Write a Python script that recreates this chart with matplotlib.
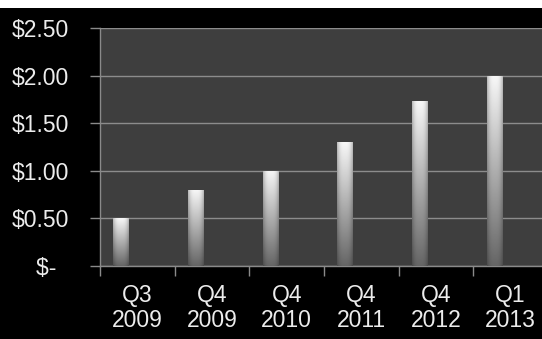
import numpy as np
import matplotlib
matplotlib.use("Agg")
import matplotlib.pyplot as plt
from matplotlib.patches import Rectangle

categories = ["Q3\n2009", "Q4\n2009", "Q4\n2010", "Q4\n2011", "Q4\n2012", "Q1\n2013"]
values = [0.50, 0.80, 1.00, 1.30, 1.73, 2.00]
ytick_values = [0.0, 0.5, 1.0, 1.5, 2.0, 2.5]
ytick_labels = ["$-  ", "$0.50", "$1.00", "$1.50", "$2.00", "$2.50"]

plt.rcParams['font.family'] = ['Liberation Sans', 'DejaVu Sans']

W, H = 542, 339
fig = plt.figure(figsize=(W / 100, H / 100), dpi=100, facecolor="black")
# white strip at top
fig.patches.append(Rectangle((0, 1 - 8 / H), 1, 8 / H, transform=fig.transFigure,
                             facecolor="white", edgecolor="none", zorder=-1))

ax = fig.add_axes([100 / W, 1 - 266 / H, 448 / W, (266 - 28) / H])
ax.set_facecolor("#3e3e3e")

x = np.arange(len(categories))
offset = -0.215
bw = 0.21
bars = ax.bar(x + offset, values, width=bw, color="none", edgecolor="none", zorder=3)

# gradient fill for bars
ny, nx = 100, 30
vy = np.linspace(0.40, 0.97, ny)[:, None]          # bottom -> top
xx = np.linspace(-1, 1, nx)[None, :]
hprof = 1 - 0.25 * np.abs(xx) ** 3
grad = np.clip(vy * hprof, 0, 1)
for b in bars:
    x0, y0 = b.get_x(), b.get_y()
    w, h = b.get_width(), b.get_height()
    im = ax.imshow(grad, cmap="gray", vmin=0, vmax=1, origin="lower",
                   extent=[x0, x0 + w, y0, y0 + h], aspect="auto",
                   interpolation="bilinear", zorder=4)
    im.set_clip_path(b)

ax.set_xlim(-0.5, len(categories) - 0.5)
ax.set_ylim(0, 2.5)

fs = 16.5
ax.set_yticks(ytick_values)
ax.set_yticklabels(ytick_labels)
ax.set_xticks(x)
ax.set_xticklabels(categories, linespacing=1.12)
ax.tick_params(axis="x", length=0, pad=13, labelsize=fs, colors="#ececec")
ax.tick_params(axis="y", length=7, width=1, color="#8a8a8a", pad=15,
               labelsize=fs, labelcolor="#ececec")

# category boundary ticks
ax.set_xticks(np.arange(-0.5, len(categories) + 0.5, 1), minor=True)
ax.tick_params(axis="x", which="minor", length=7, width=1, color="#8a8a8a", direction="out")

ax.grid(axis="y", color="#8c8c8c", linewidth=1.0, zorder=1)
ax.set_axisbelow(True)
for side in ["left", "bottom"]:
    ax.spines[side].set_color("#8a8a8a")
    ax.spines[side].set_linewidth(1.0)
ax.spines["top"].set_visible(False)
ax.spines["right"].set_visible(False)

fig.savefig("out.png", dpi=100, facecolor=fig.get_facecolor())
